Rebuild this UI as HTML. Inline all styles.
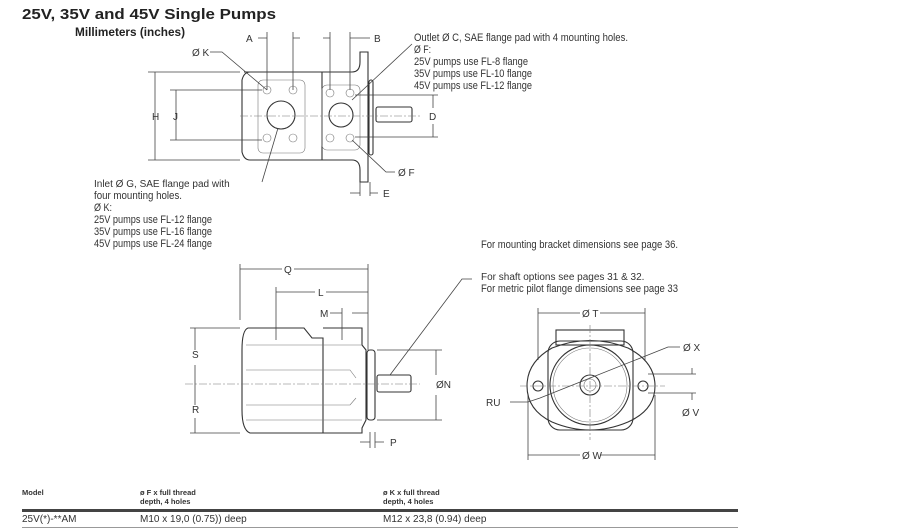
<!DOCTYPE html>
<html><head><meta charset="utf-8"><style>
html,body{margin:0;padding:0;background:#fff;}
svg{display:block;font-family:"Liberation Sans",sans-serif;}
.t{font-size:10px;fill:#333;}
.n{font-size:11px;fill:#333;}
.d{stroke:#444;stroke-width:0.8;fill:none;}
.o{stroke:#333;stroke-width:1.1;fill:none;}
.f{stroke:#777;stroke-width:0.6;fill:none;}
.c{stroke:#777;stroke-width:0.6;fill:none;stroke-dasharray:8 2 2 2;}
</style></head><body>
<svg width="920" height="529" viewBox="0 0 920 529">
<text x="22" y="19" font-size="15" font-weight="bold" fill="#222" textLength="254" lengthAdjust="spacingAndGlyphs">25V, 35V and 45V Single Pumps</text>
<text x="75" y="36" font-size="12" font-weight="bold" fill="#222" textLength="110" lengthAdjust="spacingAndGlyphs">Millimeters (inches)</text>

<!-- top view -->
<g>
<path class="o" d="M244 72 H322 V160 H250 Q244 160 242 152 V80 Q244 72 250 72Z"/>
<path class="o" d="M322 72 H352 Q360 72 360 62 V52 H368 V182 H360 V170 Q360 160 352 160 H322"/>
<rect class="o" x="369" y="80" width="4" height="75" rx="2"/>
<rect class="o" x="376" y="107" width="36" height="15" rx="2"/>
<rect class="f" x="258" y="80" width="47" height="73" rx="5"/>
<circle class="o" cx="281" cy="115" r="14"/>
<circle class="f" cx="267" cy="90" r="4"/><circle class="f" cx="293" cy="90" r="4"/>
<circle class="f" cx="267" cy="138" r="4"/><circle class="f" cx="293" cy="138" r="4"/>
<rect class="f" x="322" y="85" width="38" height="65" rx="5"/>
<circle class="o" cx="341" cy="115" r="12"/>
<circle class="f" cx="330" cy="93" r="4"/><circle class="f" cx="350" cy="93" r="4"/>
<circle class="f" cx="330" cy="138" r="4"/><circle class="f" cx="350" cy="138" r="4"/>
<line class="c" x1="240" y1="116" x2="420" y2="116"/>
<path class="d" d="M155 72 V160 M148 72 H240 M148 160 H240 M176 90 V140 M170 90 H262 M170 140 H262"/>
<path class="d" d="M267 32 V90 M293 32 V90 M258 38 H267 M293 38 H300 M330 32 V90 M350 32 V90 M323 38 H330 M350 38 H370"/>
<path class="d" d="M433 95 V108 M433 124 V137 M355 95 H438 M355 137 H438"/>
<path class="d" d="M360 182 V196 M370 182 V196 M350 193 H360 M370 193 H378"/>
<path class="d" d="M210 52 H222 L267 90 M395 172 H386 L352 140 M412 44 L352 100 M262 182 L278 128"/>
<text class="t" x="152" y="120">H</text><text class="t" x="173" y="120">J</text>
<text class="t" x="246" y="42">A</text><text class="t" x="374" y="42">B</text>
<text class="t" x="429" y="120">D</text><text class="t" x="383" y="197">E</text>
<text class="t" x="192" y="56">Ø K</text><text class="t" x="398" y="176">Ø F</text>
</g>

<text class="n" x="414" y="41" textLength="214" lengthAdjust="spacingAndGlyphs">Outlet  Ø C, SAE flange pad with 4 mounting holes.</text>
<text class="n" x="414" y="53" textLength="17" lengthAdjust="spacingAndGlyphs">Ø F:</text>
<text class="n" x="414" y="65" textLength="114" lengthAdjust="spacingAndGlyphs">25V pumps use FL-8 flange</text>
<text class="n" x="414" y="77" textLength="118" lengthAdjust="spacingAndGlyphs">35V pumps use FL-10 flange</text>
<text class="n" x="414" y="89" textLength="118" lengthAdjust="spacingAndGlyphs">45V pumps use FL-12 flange</text>
<text class="t" x="94" y="187">Inlet Ø G, SAE flange pad with</text>
<text class="n" x="94" y="199" textLength="88" lengthAdjust="spacingAndGlyphs">four mounting holes.</text>
<text class="n" x="94" y="211" textLength="18" lengthAdjust="spacingAndGlyphs">Ø K:</text>
<text class="n" x="94" y="223" textLength="118" lengthAdjust="spacingAndGlyphs">25V pumps use FL-12 flange</text>
<text class="n" x="94" y="235" textLength="118" lengthAdjust="spacingAndGlyphs">35V pumps use FL-16 flange</text>
<text class="n" x="94" y="247" textLength="118" lengthAdjust="spacingAndGlyphs">45V pumps use FL-24 flange</text>
<text class="n" x="481" y="248" textLength="197" lengthAdjust="spacingAndGlyphs">For mounting bracket dimensions see page 36.</text>
<text class="t" x="481" y="280">For shaft options see pages 31 &amp; 32.</text>
<text class="n" x="481" y="292" textLength="197" lengthAdjust="spacingAndGlyphs">For metric pilot flange dimensions see page 33</text>

<!-- side view -->
<g>
<path class="o" d="M248 328 H304 L312 338 H323 V433 H250 Q242 430 242 410 V350 Q242 330 248 328Z"/>
<path class="o" d="M323 328 H362 V345 L366 350 V420 L362 428 V433 H323"/>
<rect class="o" x="367" y="350" width="8" height="70" rx="3"/>
<rect class="o" x="377" y="375" width="34" height="17" rx="2"/>
<path class="f" d="M246 345 H362 M246 370 H350 L356 378 M246 405 H350 L356 398 M246 420 H362"/>
<line class="c" x1="185" y1="384" x2="420" y2="384"/>
<path class="d" d="M240 264 V320 M368 264 V350 M276 287 V340 M342 308 V340 M240 269 H282 M294 269 H368 M276 292 H315 M326 292 H368 M330 313 H342 M352 313 H368"/>
<path class="d" d="M195 328 V350 M195 365 V405 M195 418 V433 M190 328 H240 M190 433 H240"/>
<path class="d" d="M436 350 V375 M436 395 V420 M377 350 H442 M377 420 H442"/>
<path class="d" d="M370 432 V448 M375 432 V448 M360 442 H370 M375 442 H384 M472 279 H462 L390 375"/>
<text class="t" x="284" y="273">Q</text><text class="t" x="318" y="296">L</text><text class="t" x="320" y="317">M</text>
<text class="t" x="192" y="358">S</text><text class="t" x="192" y="413">R</text>
<text class="t" x="436" y="388">ØN</text><text class="t" x="390" y="446">P</text>
</g>

<!-- front view -->
<g>
<path class="d" d="M538 308 V360 M645 308 V360 M538 313 H580 M600 313 H645 M528 395 V460 M655 395 V460 M528 455 H580 M600 455 H655"/>
<rect class="o" x="556" y="330" width="68" height="15"/>
<rect class="o" x="548" y="341" width="85" height="89" rx="12"/>
<path class="o" d="M552 348 Q590 333 628 348 Q655 362 655 386 Q655 410 628 422 Q590 438 552 422 Q527 410 527 386 Q527 362 552 348Z" fill="#fff"/>
<circle class="o" cx="590" cy="385" r="40"/>
<circle class="f" cx="590" cy="385" r="37"/>
<circle class="o" cx="590" cy="385" r="10"/>
<circle class="f" cx="590" cy="385" r="6"/>
<circle class="o" cx="538" cy="386" r="5"/><circle class="o" cx="643" cy="386" r="5"/>
<line class="c" x1="520" y1="386" x2="665" y2="386"/>
<line class="c" x1="590" y1="325" x2="590" y2="440"/>
<path class="d" d="M510 402 H528 L540 398 L668 347 H680 M648 374 H696 M648 393 H696 M692 368 V374 M692 393 V400"/>
<text class="t" x="582" y="317">Ø T</text><text class="t" x="683" y="351">Ø X</text>
<text class="t" x="486" y="406">RU</text><text class="t" x="682" y="416">Ø V</text>
<text class="t" x="582" y="459">Ø W</text>
</g>

<!-- table -->
<g font-size="7.5" font-weight="bold" fill="#333">
<text x="22" y="495">Model</text>
<text x="140" y="495">ø F x full thread</text><text x="140" y="504">depth, 4 holes</text>
<text x="383" y="495">ø K x full thread</text><text x="383" y="504">depth, 4 holes</text>
</g>
<rect x="22" y="509" width="716" height="3" fill="#444"/>
<g class="t" font-size="9.5">
<text x="22" y="522">25V(*)-**AM</text>
<text x="140" y="522">M10 x 19,0 (0.75)) deep</text>
<text x="383" y="522">M12 x 23,8 (0.94) deep</text>
</g>
<rect x="22" y="527" width="716" height="1" fill="#999"/>
</svg>
</body></html>
